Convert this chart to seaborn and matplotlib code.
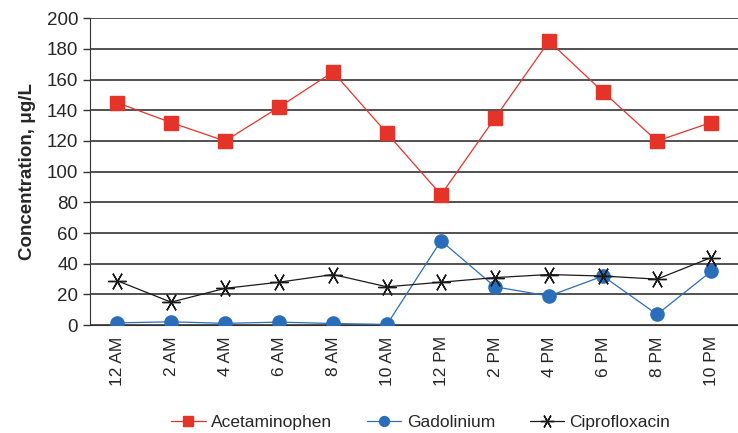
import pandas as pd
import seaborn as sns
import matplotlib.pyplot as plt
import numpy as np

times = ['12 AM', '2 AM', '4 AM', '6 AM', '8 AM', '10 AM',
         '12 PM', '2 PM', '4 PM', '6 PM', '8 PM', '10 PM']
acetaminophen = [145, 132, 120, 142, 165, 125, 85, 135, 185, 152, 120, 132]
gadolinium = [1.5, 2.2, 1.2, 2.0, 1.1, 0.5, 55, 25, 19, 32, 7, 35]
ciprofloxacin = [29, 15, 24, 28, 33, 25, 28, 31, 33, 32, 30, 44]

df = pd.DataFrame({
    'pos': list(range(len(times))) * 3,
    'value': acetaminophen + gadolinium + ciprofloxacin,
    'compound': ['Acetaminophen'] * 12 + ['Gadolinium'] * 12 + ['Ciprofloxacin'] * 12,
})

sns.set_style('white')
plt.rcParams['font.family'] = ['Liberation Sans', 'DejaVu Sans']

fig = plt.figure(figsize=(7.38, 4.33), dpi=100)
ax = fig.add_axes([0.122, 0.249, 0.878, 0.709])

palette = {'Acetaminophen': '#E5332A', 'Gadolinium': '#2A6EBB', 'Ciprofloxacin': '#1A1A1A'}
markers = {'Acetaminophen': 's', 'Gadolinium': 'o', 'Ciprofloxacin': (6, 2, 90)}
sizes = {'Acetaminophen': 9.5, 'Gadolinium': 9.5, 'Ciprofloxacin': 13}

for name in ['Acetaminophen', 'Gadolinium', 'Ciprofloxacin']:
    sub = df[df['compound'] == name]
    sns.lineplot(data=sub, x='pos', y='value', ax=ax, color=palette[name],
                 marker=markers[name], markersize=sizes[name], linewidth=0.9,
                 markeredgecolor=palette[name], markeredgewidth=1.0,
                 label=name, zorder=3)

ax.set_xlim(-0.5, 11.5)
ax.set_ylim(0, 200)
ax.set_yticks(np.arange(0, 201, 20))
ax.yaxis.grid(True, color='#333333', linewidth=1.2)
ax.set_axisbelow(True)

ax.set_xticks(np.arange(len(times)))
ax.set_xticklabels(times, rotation=90, fontsize=12.5)
ax.set_xticks(np.arange(-0.5, 12, 1), minor=True)
ax.tick_params(axis='x', which='major', length=0, pad=8)
ax.tick_params(axis='x', which='minor', length=5, width=1, color='#333333', direction='out')
ax.tick_params(axis='y', labelsize=13.5, length=5, width=1, color='#333333', direction='out', left=True)

for s in ['top', 'right']:
    ax.spines[s].set_visible(False)
ax.spines['left'].set_color('#333333')
ax.spines['bottom'].set_color('#333333')

ax.set_xlabel('')
ax.set_ylabel('Concentration, μg/L', fontsize=13.5, fontweight='bold', labelpad=8)

handles, labels = ax.get_legend_handles_labels()
ax.get_legend().remove()
fig.legend(handles, labels, loc='center', bbox_to_anchor=(0.57, 0.025), ncol=3, frameon=False,
           fontsize=12.5, handlelength=2.0, handletextpad=0.3, columnspacing=2.0, markerscale=0.75)

plt.savefig('out.png', dpi=100)
